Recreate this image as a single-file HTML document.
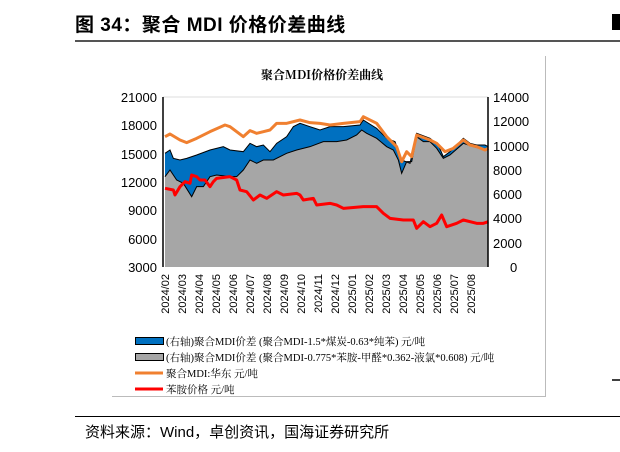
<!DOCTYPE html>
<html><head><meta charset="utf-8"><style>
body{margin:0;background:#fff;width:620px;height:452px;overflow:hidden;position:relative;font-family:"Liberation Sans","Noto Sans CJK SC",sans-serif}
.t{position:absolute;white-space:nowrap}
</style></head><body>
<div class="t" style="left:75px;top:10px;font-size:19px;font-weight:bold;letter-spacing:0.5px">图 34：聚合 MDI 价格价差曲线</div>
<div style="position:absolute;left:75px;top:40px;width:545px;height:2px;background:#555"></div>
<div style="position:absolute;left:612px;top:14px;width:8px;height:16px;background:#000"></div>
<div style="position:absolute;left:112px;top:56px;width:433px;height:340px;border-right:1px solid #bbb;border-bottom:1px solid #bbb"></div>
<div style="position:absolute;left:75px;top:416px;width:545px;height:1px;background:#000"></div>
<div class="t" style="left:85px;top:421px;font-size:15px">资料来源：Wind，卓创资讯，国海证券研究所</div>
<svg width="620" height="452" style="position:absolute;left:0;top:0" font-family="Liberation Sans, Noto Sans CJK SC, sans-serif">
<text x="322" y="79" text-anchor="middle" font-size="12" font-weight="bold" font-family="Noto Serif CJK SC, serif">聚合MDI价格价差曲线</text>
<line x1="163" y1="97" x2="488" y2="97" stroke="#ddd" stroke-width="1"/>
<g transform="translate(130,80) scale(0.333333)">
<polygon fill="#a6a6a6" points="105,561 105,290 120,270 140,300 160,310 185,350 200,320 220,320 240,290 260,285 300,290 320,290 340,270 360,240 380,250 400,240 430,240 470,220 500,210 540,200 580,185 620,185 650,180 680,165 695,150 710,160 740,175 770,200 790,210 805,240 815,280 830,245 845,245 860,170 880,185 900,185 920,205 940,235 960,225 1000,190 1030,200 1050,205 1065,210 1075,200 1075,561"/>
<polygon fill="#0070c0" points="105,220 120,210 130,235 150,240 170,235 200,225 240,210 280,200 300,210 340,215 360,190 380,200 400,195 420,215 440,190 470,170 490,140 510,130 540,140 570,150 600,140 640,140 690,135 700,120 740,145 770,175 795,185 815,240 840,250 860,160 900,175 925,195 940,230 960,215 1000,175 1020,190 1040,195 1065,195 1075,200 1065,210 1050,205 1030,200 1000,190 960,225 940,235 920,205 900,185 880,185 860,170 845,245 830,245 815,280 805,240 790,210 770,200 740,175 710,160 695,150 680,165 650,180 620,185 580,185 540,200 500,210 470,220 430,240 400,240 380,250 360,240 340,270 320,290 300,290 260,285 240,290 220,320 200,320 185,350 160,310 140,300 120,270 105,290"/>
<polyline fill="none" stroke="#000" stroke-width="3" points="105,220 120,210 130,235 150,240 170,235 200,225 240,210 280,200 300,210 340,215 360,190 380,200 400,195 420,215 440,190 470,170 490,140 510,130 540,140 570,150 600,140 640,140 690,135 700,120 740,145 770,175 795,185 815,240 840,250 860,160 900,175 925,195 940,230 960,215 1000,175 1020,190 1040,195 1065,195 1075,200"/>
<polyline fill="none" stroke="#000" stroke-width="3" points="105,290 120,270 140,300 160,310 185,350 200,320 220,320 240,290 260,285 300,290 320,290 340,270 360,240 380,250 400,240 430,240 470,220 500,210 540,200 580,185 620,185 650,180 680,165 695,150 710,160 740,175 770,200 790,210 805,240 815,280 830,245 845,245 860,170 880,185 900,185 920,205 940,235 960,225 1000,190 1030,200 1050,205 1065,210 1075,200"/>
<polyline fill="none" stroke="#f00" stroke-width="9" stroke-linejoin="round" points="105,325 130,330 135,345 150,320 165,305 180,310 185,285 200,290 210,300 225,300 240,320 250,305 260,295 300,290 320,300 330,330 350,335 370,360 390,345 410,355 440,335 460,345 500,340 510,345 520,360 550,355 560,375 600,370 620,375 640,385 700,380 740,380 760,400 780,415 820,420 850,420 860,445 880,425 900,440 920,430 935,405 950,440 980,430 1000,420 1040,430 1060,430 1075,425"/>
<polyline fill="none" stroke="#f08030" stroke-width="9" stroke-linejoin="round" points="105,170 120,162 150,180 170,188 200,175 240,155 285,135 300,140 340,170 360,152 380,160 400,155 420,150 440,130 470,130 510,120 540,128 570,130 600,135 640,130 690,125 700,110 740,130 770,170 800,200 815,245 830,215 845,230 860,165 900,180 920,190 945,215 970,205 1000,180 1020,195 1040,200 1065,210 1075,205"/>
</g>
<line x1="163" y1="97" x2="163" y2="267" stroke="#000" stroke-width="1.5"/>
<line x1="488" y1="97" x2="488" y2="267" stroke="#000" stroke-width="1.5"/>
<g font-size="13" text-anchor="end">
<text x="157" y="102">21000</text><text x="157" y="130">18000</text><text x="157" y="159">15000</text><text x="157" y="187">12000</text><text x="157" y="215">9000</text><text x="157" y="244">6000</text><text x="157" y="272">3000</text>
</g>
<g font-size="13" text-anchor="start">
<text x="493" y="102">14000</text><text x="493" y="126">12000</text><text x="493" y="151">10000</text><text x="493" y="175">8000</text><text x="493" y="199">6000</text><text x="493" y="223">4000</text><text x="493" y="248">2000</text><text x="510" y="272">0</text>
</g>
<g font-size="11" text-anchor="end">
<text transform="translate(169,274) rotate(-90)">2024/02</text>
<text transform="translate(186,274) rotate(-90)">2024/03</text>
<text transform="translate(203,274) rotate(-90)">2024/04</text>
<text transform="translate(220,274) rotate(-90)">2024/05</text>
<text transform="translate(237,274) rotate(-90)">2024/06</text>
<text transform="translate(254,274) rotate(-90)">2024/07</text>
<text transform="translate(271,274) rotate(-90)">2024/08</text>
<text transform="translate(288,274) rotate(-90)">2024/09</text>
<text transform="translate(305,274) rotate(-90)">2024/10</text>
<text transform="translate(322,274) rotate(-90)">2024/11</text>
<text transform="translate(339,274) rotate(-90)">2024/12</text>
<text transform="translate(356,274) rotate(-90)">2025/01</text>
<text transform="translate(373,274) rotate(-90)">2025/02</text>
<text transform="translate(390,274) rotate(-90)">2025/03</text>
<text transform="translate(407,274) rotate(-90)">2025/04</text>
<text transform="translate(424,274) rotate(-90)">2025/05</text>
<text transform="translate(441,274) rotate(-90)">2025/06</text>
<text transform="translate(458,274) rotate(-90)">2025/07</text>
<text transform="translate(475,274) rotate(-90)">2025/08</text>
</g>
<rect x="135.5" y="337.5" width="28" height="7" fill="#0070c0" stroke="#000"/>
<rect x="135.5" y="353.5" width="28" height="7" fill="#a6a6a6" stroke="#000"/>
<line x1="135" y1="373" x2="163" y2="373" stroke="#f08030" stroke-width="3"/>
<line x1="135" y1="389" x2="163" y2="389" stroke="#f00" stroke-width="3"/>
<g font-size="10.5" font-family="Liberation Serif, Noto Serif CJK SC, serif">
<text x="166" y="345">(右轴)聚合MDI价差 (聚合MDI-1.5*煤炭-0.63*纯苯) 元/吨</text>
<text x="166" y="361">(右轴)聚合MDI价差 (聚合MDI-0.775*苯胺-甲醛*0.362-液氯*0.608) 元/吨</text>
<text x="166" y="377">聚合MDI:华东 元/吨</text>
<text x="166" y="393">苯胺价格 元/吨</text>
</g>
<line x1="612" y1="380" x2="620" y2="380" stroke="#000" stroke-width="1.5"/>
</svg>
</body></html>
